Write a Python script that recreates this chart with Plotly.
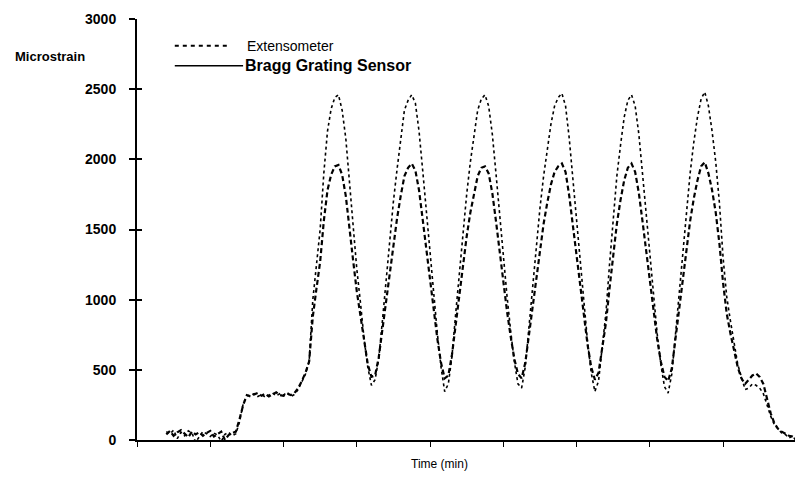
import numpy as np
import plotly.graph_objects as go

# ---------------- data ----------------
t_start = 0.40   # time of first sample (axis units = tick spacing)
t_step = 0.05

# Bragg grating sensor (microstrain), segments listed in time order
bgs_baseline = [60, 45, 70, 10, 55, 30, 65, 50, -15, 20, 60, 45, 25, 50, 35, -10, 40, 55, 30, 45]
bgs_plateau = [130, 260, 315, 320, 330, 310, 325, 305, 320, 335, 315, 330, 320, 340, 310, 325]
bgs_rise = [360, 410, 470, 560, 1000, 1250, 1500, 1900, 2200, 2360, 2440]
bgs_cycle1 = [2460, 2350, 2150, 1850, 1500, 1220, 980, 720, 520, 390, 430, 580, 850, 1150, 1400, 1700, 1930, 2150, 2350, 2420]
bgs_cycle2 = [2460, 2400, 2200, 1920, 1620, 1300, 1020, 760, 520, 345, 400, 600, 900, 1200, 1480, 1750, 1980, 2180, 2350, 2430]
bgs_cycle3 = [2460, 2380, 2180, 1900, 1600, 1300, 1030, 780, 560, 400, 370, 520, 800, 1100, 1380, 1650, 1880, 2080, 2250, 2380]
bgs_cycle4 = [2440, 2470, 2380, 2150, 1850, 1550, 1250, 950, 700, 480, 345, 420, 650, 900, 1250, 1600, 1880, 2100, 2300, 2420]
bgs_cycle5 = [2460, 2380, 2180, 1900, 1600, 1300, 1020, 760, 540, 380, 335, 470, 750, 1050, 1350, 1650, 1900, 2120, 2300, 2430]
bgs_end = [2480, 2380, 2200, 1980, 1690, 1300, 1020, 850, 700, 540, 450, 360, 370, 400, 390, 370, 330, 250, 170, 110, 80, 50, 40, 15, 30, -10, 5]

# Extensometer (microstrain)
ext_baseline = [40, 65, 30, 55, 70, 45, 20, 60, 40, 55, 30, 50, 65, 25, 45, 60, 0, 35, 50, 60]
ext_plateau = [150, 250, 320, 310, 325, 335, 315, 330, 310, 325, 340, 320, 315, 330, 320, 335]
ext_rise = [370, 420, 480, 560, 880, 1080, 1270, 1560, 1780, 1890, 1950]
ext_cycle1 = [1960, 1890, 1740, 1530, 1280, 1060, 880, 690, 540, 450, 460, 590, 790, 1010, 1190, 1410, 1580, 1740, 1880, 1940]
ext_cycle2 = [1970, 1920, 1780, 1570, 1350, 1120, 910, 720, 550, 440, 460, 610, 820, 1040, 1250, 1450, 1620, 1760, 1880, 1940]
ext_cycle3 = [1950, 1900, 1760, 1560, 1340, 1120, 920, 740, 580, 470, 440, 550, 750, 970, 1180, 1380, 1540, 1690, 1820, 1910]
ext_cycle4 = [1950, 1970, 1910, 1740, 1520, 1300, 1080, 860, 680, 520, 430, 480, 640, 830, 1080, 1330, 1540, 1710, 1850, 1940]
ext_cycle5 = [1970, 1910, 1760, 1560, 1340, 1120, 910, 720, 560, 450, 420, 510, 720, 940, 1160, 1380, 1560, 1720, 1850, 1950]
ext_end = [1980, 1900, 1780, 1620, 1400, 1120, 900, 760, 640, 520, 440, 400, 430, 460, 475, 450, 400, 290, 190, 120, 80, 60, 45, 30, 25, 15, 5]

y_ticks = [0, 500, 1000, 1500, 2000, 2500, 3000]
x_ticks = [0, 1, 2, 3, 4, 5, 6, 7, 8, 9]

series_names = ["Extensometer", "Bragg Grating Sensor"]
y_title = "Microstrain"
x_title = "Time (min)"

# ---------------- assemble ----------------
bgs = (bgs_baseline + bgs_plateau + bgs_rise + bgs_cycle1 + bgs_cycle2 +
       bgs_cycle3 + bgs_cycle4 + bgs_cycle5 + bgs_end)
ext = (ext_baseline + ext_plateau + ext_rise + ext_cycle1 + ext_cycle2 +
       ext_cycle3 + ext_cycle4 + ext_cycle5 + ext_end)
t_bgs = np.round(t_start + t_step * np.arange(len(bgs)), 3)
t_ext = np.round(t_start + t_step * np.arange(len(ext)), 3)

FONT = "Liberation Sans, Arial, sans-serif"

fig = go.Figure()
fig.add_trace(go.Scatter(
    x=t_bgs, y=bgs, mode="lines", name=series_names[1],
    line=dict(color="black", width=1.6, dash="dot"), showlegend=False))
fig.add_trace(go.Scatter(
    x=t_ext, y=ext, mode="lines", name=series_names[0],
    line=dict(color="black", width=2.2, dash="5px,3px"), showlegend=False))

# invisible trace on an overlay axis to draw the inner half of the cross ticks
fig.add_trace(go.Scatter(x=[t_bgs[0]], y=[bgs[0]], yaxis="y2", mode="lines",
                         line=dict(width=0), showlegend=False, hoverinfo="skip"))

# the page body has an 8px margin, so the figure is sized/placed to compensate
fig.update_layout(
    width=795, height=470,
    margin=dict(l=129, r=3, t=7, b=38),
    paper_bgcolor="white", plot_bgcolor="white",
    font=dict(family=FONT, color="black"),
    xaxis=dict(range=[0, 9.05], tickvals=x_ticks, showticklabels=False,
               ticks="outside", ticklen=5, tickwidth=1.2, tickcolor="black",
               showline=True, linecolor="black", linewidth=2,
               showgrid=False, zeroline=False),
    yaxis=dict(range=[0, 3000], tickvals=y_ticks, ticks="outside", ticklen=6,
               tickwidth=1.5, tickcolor="black", ticklabelstandoff=10,
               ticklabeloverflow="allow",
               tickfont=dict(family=FONT, size=14, color="black", weight="bold"),
               showline=True, linecolor="black", linewidth=2,
               showgrid=False, zeroline=False),
    yaxis2=dict(range=[0, 3000], overlaying="y", side="left", tickvals=y_ticks,
                ticks="inside", ticklen=5, tickwidth=1.5, tickcolor="black",
                showticklabels=False, showline=False, showgrid=False, zeroline=False),
)

# manual legend (paper coordinates)
fig.add_shape(type="line", xref="paper", yref="paper", x0=0.057, x1=0.140, y0=0.9365, y1=0.9365,
              line=dict(color="black", width=2, dash="4px,4px"))
fig.add_shape(type="line", xref="paper", yref="paper", x0=0.057, x1=0.160, y0=0.889, y1=0.889,
              line=dict(color="black", width=1.5))
fig.add_annotation(xref="paper", yref="paper", x=0.163, y=0.9365, text=series_names[0],
                   showarrow=False, xanchor="left", yanchor="middle",
                   font=dict(family=FONT, size=14, color="black"))
fig.add_annotation(xref="paper", yref="paper", x=0.160, y=0.889, text=series_names[1],
                   showarrow=False, xanchor="left", yanchor="middle",
                   font=dict(family=FONT, size=16, color="black", weight="bold"))

# axis titles
fig.add_annotation(xref="paper", yref="paper", x=-0.131, y=0.9106, text=y_title,
                   showarrow=False, xanchor="center", yanchor="middle",
                   font=dict(family=FONT, size=13, color="black", weight="bold"))
fig.add_annotation(xref="paper", yref="paper", x=0.457, y=-0.057, text=x_title,
                   showarrow=False, xanchor="center", yanchor="middle",
                   font=dict(family=FONT, size=12, color="black"))

fig.write_html("out.html")
